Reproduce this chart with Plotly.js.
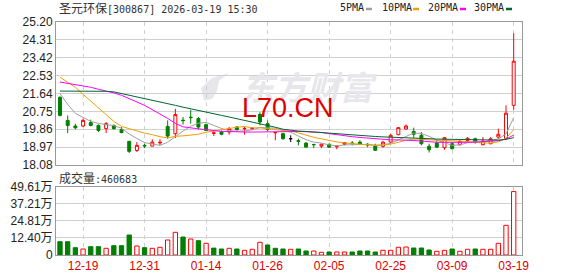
<!DOCTYPE html>
<html><head><meta charset="utf-8">
<script src="https://cdn.plot.ly/plotly-3.0.1.min.js"></script>
<style>html,body{margin:0;padding:0;background:#fff;}#chart{width:578px;height:276px;}</style>
</head><body><div id="chart"></div>
<script>
const dates = ['12-16','12-17','12-18','12-19','12-22','12-23','12-24','12-25','12-26','12-29','12-30','12-31',
'01-05','01-06','01-07','01-08','01-09','01-12','01-13','01-14','01-15','01-16','01-19','01-20','01-21','01-22','01-23','01-26','01-27','01-28','01-29','01-30',
'02-02','02-03','02-04','02-05','02-06','02-09','02-10','02-11','02-12','02-13','02-24','02-25','02-26','02-27',
'03-02','03-03','03-04','03-05','03-06','03-09','03-10','03-11','03-12','03-13','03-16','03-17','03-18','03-19'];
const openP  = [21.45,20.30,20.02,20.02,20.19,20.05,19.89,20.05,19.84,19.26,18.80,19.06,19.02,19.18,20.00,19.64,20.31,20.46,20.39,20.09,19.66,19.72,19.72,19.97,19.88,19.89,20.60,20.14,19.68,19.64,19.39,19.29,19.17,19.10,19.02,19.11,18.99,19.11,19.18,19.22,19.11,19.02,19.01,19.22,19.59,19.87,19.75,19.56,19.01,19.17,18.94,19.14,19.09,19.31,19.39,19.09,19.14,19.47,19.39,21.05];
const highP  = [21.50,20.55,20.14,20.39,20.34,20.10,20.22,20.10,19.97,19.26,19.22,19.14,19.36,19.36,20.30,20.88,20.47,20.82,20.47,20.14,19.80,19.80,19.97,20.02,19.97,19.97,20.71,20.30,19.72,19.69,19.56,19.39,19.22,19.14,19.12,19.14,19.06,19.22,19.27,19.31,19.17,19.14,19.27,19.64,19.97,20.10,19.94,19.72,19.14,19.34,19.47,19.22,19.31,19.47,19.44,19.47,19.47,19.89,21.05,24.64];
const lowP   = [20.50,19.67,19.86,19.97,20.00,19.72,19.67,19.84,19.67,18.68,18.73,18.92,19.02,19.06,19.39,19.42,20.09,20.14,19.85,19.77,19.52,19.56,19.59,19.79,19.59,19.82,20.05,19.76,19.31,19.34,19.22,19.06,18.97,18.92,18.92,18.94,18.86,19.06,19.06,19.09,18.97,18.81,18.94,19.17,19.56,19.84,19.44,19.06,18.70,18.94,18.84,18.86,19.06,19.22,19.14,19.06,19.11,19.39,19.34,20.83];
const closeP = [20.55,20.05,19.93,20.30,20.05,19.80,20.14,19.89,19.69,18.76,19.06,19.03,19.22,19.21,19.52,20.59,20.29,20.44,19.97,19.80,19.68,19.61,19.89,19.84,19.90,19.90,20.22,19.84,19.70,19.39,19.39,19.26,18.97,19.09,19.12,18.97,19.01,19.19,19.15,19.12,19.08,18.81,19.22,19.56,19.94,20.02,19.61,19.14,18.84,18.97,19.44,18.89,19.26,19.41,19.22,19.27,19.39,19.61,20.66,23.25];
const volume = [9.66,9.66,5.30,4.36,6.03,6.03,4.87,6.76,6.76,14.53,6.54,5.30,4.87,5.59,10.90,16.49,13.08,11.62,10.39,8.50,5.00,4.36,4.87,4.36,3.41,4.14,9.23,7.26,4.87,4.36,4.14,4.36,2.91,2.91,1.96,2.18,2.18,2.18,2.18,2.91,2.91,2.18,3.41,3.41,5.59,5.81,5.08,5.08,3.63,2.69,3.41,4.36,2.69,4.14,4.36,4.14,4.14,8.50,21.57,46.07];
const volUp = [0,0,0,1,0,0,1,0,0,0,1,0,1,1,1,1,0,1,0,1,0,0,1,0,1,1,1,0,0,0,1,0,0,1,1,0,1,1,0,0,0,0,1,1,1,1,0,0,0,1,1,0,1,1,0,1,1,1,1,1];
const ma5  = [21.63,21.10,20.65,20.45,20.25,20.15,20.08,20.04,19.91,19.62,19.40,19.20,19.12,19.06,19.21,19.51,19.77,20.01,20.16,20.20,20.04,19.90,19.79,19.76,19.78,19.83,19.95,19.94,19.91,19.81,19.71,19.52,19.34,19.22,19.17,19.08,19.03,19.08,19.09,19.09,19.11,19.07,19.08,19.16,19.32,19.51,19.67,19.65,19.51,19.32,19.20,19.06,19.08,19.19,19.24,19.21,19.31,19.38,19.63,20.44];
const ma10 = [22.45,22.20,21.95,21.60,21.25,20.90,20.55,20.25,20.00,19.88,19.77,19.67,19.59,19.49,19.43,19.51,19.53,19.58,19.61,19.71,19.78,19.83,19.90,19.96,20.00,19.93,19.93,19.87,19.84,19.80,19.77,19.68,19.56,19.46,19.38,19.30,19.23,19.18,19.15,19.13,19.10,19.05,19.08,19.12,19.21,19.31,19.37,19.37,19.33,19.32,19.32,19.30,19.27,19.24,19.20,19.18,19.17,19.23,19.41,19.84];
const ma20 = [22.21,22.15,22.09,22.02,21.95,21.85,21.77,21.67,21.55,21.40,21.22,21.05,20.85,20.62,20.40,20.15,19.98,19.92,19.88,19.84,19.78,19.75,19.75,19.72,19.72,19.72,19.73,19.72,19.72,19.74,19.75,19.75,19.74,19.72,19.70,19.64,19.58,19.53,19.49,19.45,19.42,19.38,19.35,19.33,19.33,19.33,19.30,19.27,19.23,19.21,19.21,19.20,19.20,19.21,19.22,19.24,19.26,19.29,19.37,19.57];
const ma30 = [21.76,21.76,21.76,21.76,21.76,21.76,21.75,21.72,21.64,21.54,21.46,21.38,21.30,21.22,21.14,21.05,20.96,20.87,20.79,20.71,20.63,20.55,20.47,20.39,20.30,20.22,20.13,20.05,19.96,19.86,19.80,19.77,19.75,19.72,19.69,19.67,19.64,19.61,19.57,19.53,19.51,19.50,19.48,19.47,19.46,19.44,19.42,19.40,19.39,19.37,19.36,19.35,19.34,19.33,19.33,19.32,19.31,19.32,19.36,19.44];
const maNames  = ['5PMA','10PMA','20PMA','30PMA'];
const maColors = ['#a0a0a0','#f0a000','#ff00ff','#006633'];
const priceTicks = [18.08,18.97,19.86,20.75,21.64,22.53,23.42,24.31,25.20];
const volTicks = [0,12.40,24.81,37.21,49.61];
const volTickText = ['0','12.40万','24.81万','37.21万','49.61万'];
const dateTicks = ['12-19','12-31','01-14','01-26','02-05','02-25','03-09','03-19'];
const stockName = '圣元环保';
const titleRest = '[300867] 2026-03-19 15:30';
const volLabelName = '成交量';
const volLabelValue = '460683';
const watermark = '东方财富';
const overlayText = 'L70.CN';

const RED = '#ff0000', GREEN = '#007f00';
const idx = dates.map((d, i) => i);
const up = [], dn = [], flat = [];
idx.forEach(i => { if (closeP[i] > openP[i]) up.push(i); else if (closeP[i] < openP[i]) dn.push(i); else flat.push(i); });
function candle(ids, col, fill) {
  return {type:'candlestick', x: ids, open: ids.map(i=>openP[i]), high: ids.map(i=>highP[i]),
    low: ids.map(i=>lowP[i]), close: ids.map(i=>closeP[i]), xaxis:'x', yaxis:'y',
    increasing:{line:{color:col,width:1}, fillcolor:fill}, decreasing:{line:{color:col,width:1}, fillcolor:fill},
    whiskerwidth:0, hoverinfo:'skip', showlegend:false};
}
const traces = [candle(up, RED, '#ffffff'), candle(dn, GREEN, GREEN)];
if (flat.length) traces.push(candle(flat, '#000000', '#000000'));
const mas = [ma5, ma10, ma20, ma30];
mas.forEach((m, k) => traces.push({type:'scatter', mode:'lines', x: idx, y: m, xaxis:'x', yaxis:'y',
  line:{color: maColors[k], width:1}, hoverinfo:'skip', showlegend:false}));
const vU = idx.filter(i => volUp[i]), vD = idx.filter(i => !volUp[i]);
traces.push({type:'bar', x: vU, y: vU.map(i=>volume[i]), xaxis:'x2', yaxis:'y2', width:0.56,
  marker:{color:'#ffffff', line:{color:RED, width:1}}, hoverinfo:'skip', showlegend:false});
traces.push({type:'bar', x: vD, y: vD.map(i=>volume[i]), xaxis:'x2', yaxis:'y2', width:0.56,
  marker:{color:GREEN, line:{color:GREEN, width:1}}, hoverinfo:'skip', showlegend:false});

const W = 578, H = 276, L = 56, R = 56, T = 22, B = 21;
const pw = W - L - R, ph = H - T - B;
const px = v => (v - L) / pw;            // pixel x -> paper
const py = v => (H - B - v) / ph;        // pixel y -> paper
const tickIdx = dateTicks.map(t => dates.indexOf(t));
const xr = [-0.52, 60.08];
const gridC = '#d0d0d0', lineC = '#999999';
const axFont = {family:'Liberation Sans, Arial, Noto Sans CJK SC', size:12, color:'#222'};

const annotations = [
  {xref:'paper', yref:'paper', x: px(57), y: py(8), xanchor:'left', yanchor:'middle', showarrow:false,
   text: '<span style="font-family:\'Noto Sans CJK SC\';font-size:12px">' + stockName + '</span>' + titleRest,
   font:{family:'DejaVu Sans Mono', size:10, color:'#333'}},
  {xref:'paper', yref:'paper', x: px(57), y: py(177), xanchor:'left', yanchor:'middle', showarrow:false,
   text: '<span style="font-family:\'Noto Sans CJK SC\';font-size:12px">' + volLabelName + '</span>:' + volLabelValue,
   font:{family:'DejaVu Sans Mono', size:10, color:'#333'}},
  {xref:'paper', yref:'paper', x: px(309), y: py(86), xanchor:'center', yanchor:'middle', showarrow:false,
   text: '<b><i>' + watermark + '</i></b>', font:{family:'Noto Sans CJK SC', size:33, color:'#e7e7eb'}},
  {xref:'paper', yref:'paper', x: px(288), y: py(108), xanchor:'center', yanchor:'middle', showarrow:false,
   text: overlayText, font:{family:'Liberation Sans, Arial', size:27, color:'#e00000'}}
];
const legTextX = [338, 380, 426, 472], legDashX = [366, 413, 460, 506];
const logoPts = [[204,101],[201,88],[212,78],[229,73],[219,81],[217,91],[212,99]];
const toPath = pts => 'M ' + pts.map(p => px(p[0]) + ',' + py(p[1])).join(' L ') + ' Z';
const shapes = [
  {type:'path', xref:'paper', yref:'paper', layer:'below', path: toPath(logoPts), fillcolor:'#e7e7eb', line:{width:0}}
];
maNames.forEach((n, k) => {
  annotations.push({xref:'paper', yref:'paper', x: px(legTextX[k]), y: py(8), xanchor:'left', yanchor:'middle',
    showarrow:false, text: n, font:{family:'DejaVu Sans Mono', size:10, color:'#222'}});
  shapes.push({type:'line', xref:'paper', yref:'paper', x0: px(legDashX[k]), x1: px(legDashX[k] + 6),
    y0: py(9), y1: py(9), line:{color: maColors[k], width:2.5}});
});

const layout = {
  width: W, height: H, margin:{l:L, r:R, t:T, b:B, pad:0}, paper_bgcolor:'#fff', plot_bgcolor:'#fff',
  showlegend:false, hovermode:false, dragmode:false, boxgap:0.45, barmode:'overlay',
  font: axFont,
  xaxis:{domain:[0,1], anchor:'y', range: xr, tickmode:'array', tickvals: tickIdx, ticktext: dateTicks,
    showticklabels:false, ticks:'', showgrid:true, gridcolor: gridC, griddash:'4px,4px', gridwidth:1,
    showline:true, mirror:true, linecolor: lineC, linewidth:1, zeroline:false, rangeslider:{visible:false}, fixedrange:true},
  yaxis:{domain:[py(165), 1], anchor:'x', range:[18.08, 25.20], tickmode:'array', tickvals: priceTicks,
    ticktext: priceTicks.map(v => v.toFixed(2)), ticks:'', showgrid:true, gridcolor: gridC, gridwidth:1,
    showline:true, mirror:true, linecolor: lineC, linewidth:1, zeroline:false, fixedrange:true, tickfont: axFont},
  xaxis2:{domain:[0,1], anchor:'y2', range: xr, tickmode:'array', tickvals: tickIdx, ticktext: dateTicks,
    ticks:'', showgrid:true, gridcolor: gridC, griddash:'4px,4px', gridwidth:1,
    showline:true, mirror:true, linecolor: lineC, linewidth:1, zeroline:false, fixedrange:true,
    tickfont:{family:'Liberation Sans, Arial', size:12, color:'#e00000'}},
  yaxis2:{domain:[0, py(186.7)], anchor:'x2', range:[0, 49.61], tickmode:'array', tickvals: volTicks,
    ticktext: volTickText, ticks:'', showgrid:true, gridcolor: gridC, gridwidth:1,
    showline:true, mirror:true, linecolor: lineC, linewidth:1, zeroline:false, fixedrange:true, tickfont: axFont},
  annotations: annotations, shapes: shapes
};
Plotly.newPlot('chart', traces, layout, {staticPlot:true, displayModeBar:false});
</script></body></html>
